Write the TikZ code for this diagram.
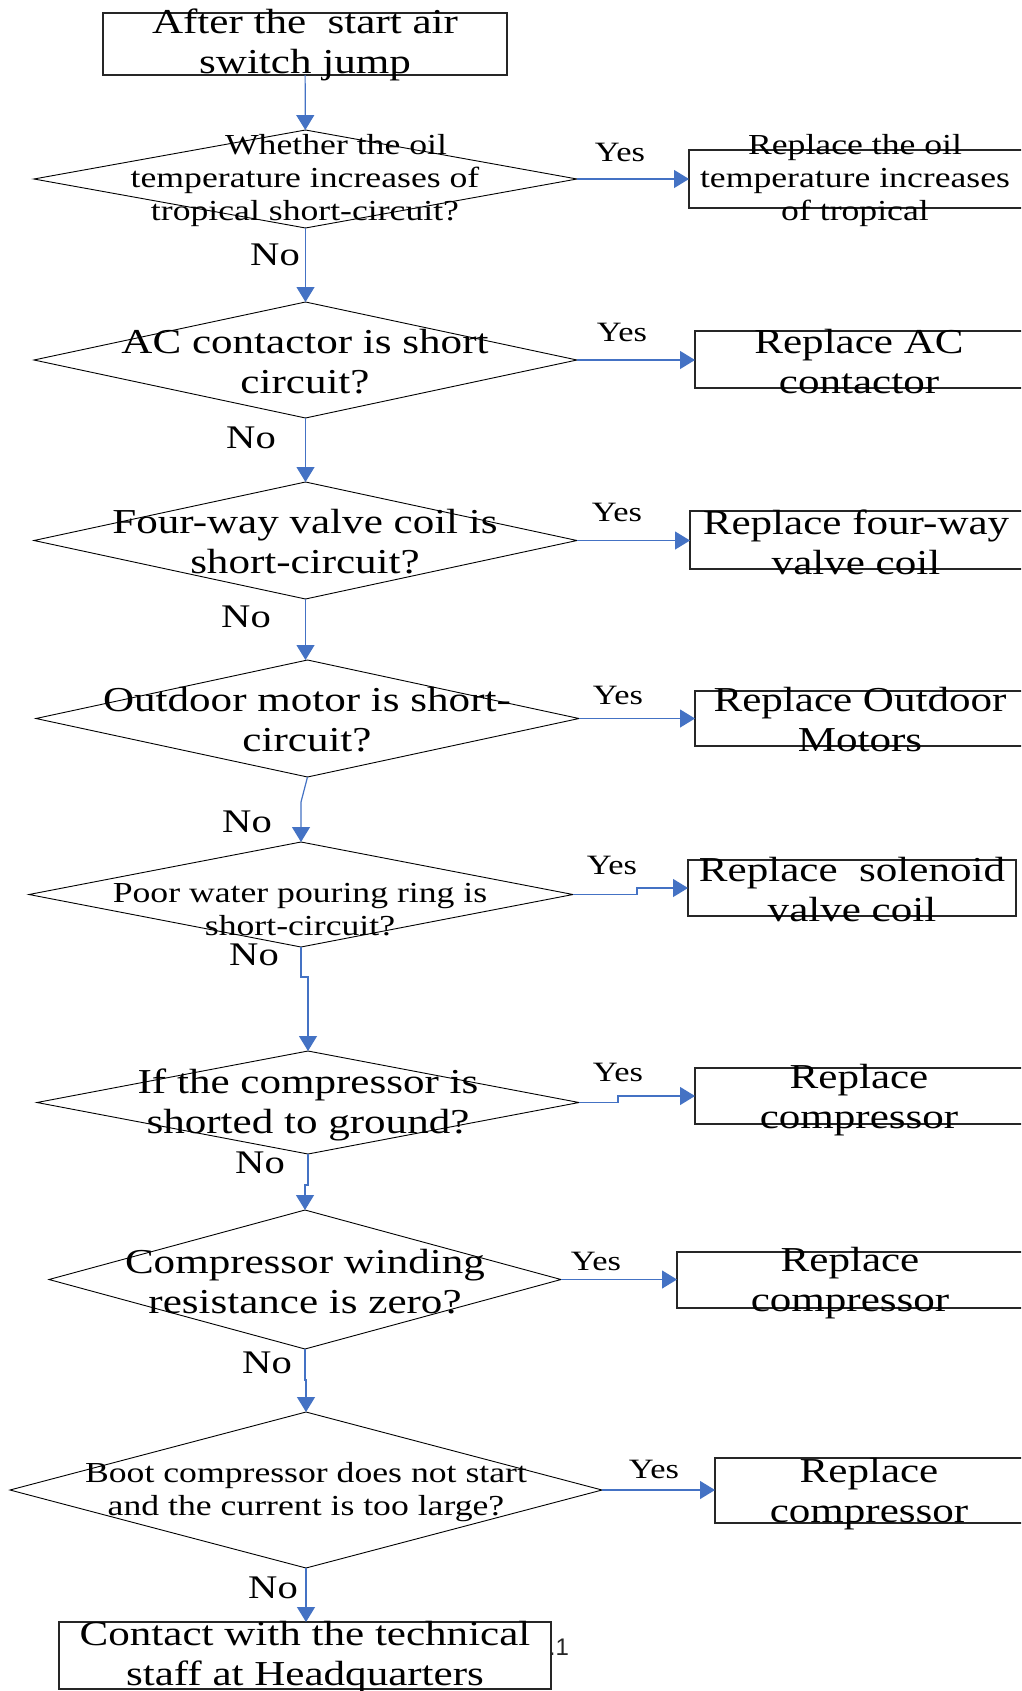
\documentclass[tikz,border=0pt]{standalone}
\usepackage{fontspec}
\setmainfont{Liberation Serif}[FakeStretch=1.23]
\newfontfamily\sansf{Liberation Sans}
\usetikzlibrary{shapes.geometric,arrows.meta,calc}
\definecolor{flowblue}{HTML}{4472C4}
\begin{document}
\begin{tikzpicture}[x=1pt,y=-1pt,
  dia/.style={draw=black, line width=0.9pt, shape=diamond, inner sep=0pt, outer sep=0pt},
  box/.style={draw=black!85, line width=1.1pt, rectangle, inner sep=0pt, outer sep=0pt},
  big/.style={font=\fontsize{35}{40}\selectfont, align=center, inner sep=0pt},
  small/.style={font=\fontsize{29}{33}\selectfont, align=center, inner sep=0pt},
  yeslbl/.style={font=\fontsize{28}{30}\selectfont, inner sep=0pt},
  nolbl/.style={font=\fontsize{33}{35}\selectfont, inner sep=0pt},
  arr/.style={draw=flowblue, line width=1.2pt, -{Triangle[length=15pt,width=18pt]}}]
\useasboundingbox (0,0) rectangle (1021,1691);
\clip (0,0) rectangle (1021,1691);
\fill[white] (0,0) rectangle (1021,1691);

% start and end boxes
\node[box, minimum width=404pt, minimum height=62pt] (start) at (305,44) {};
\node[big] (tstart) at (305,45) {After the\ \ start air\\switch jump};
\node[box, minimum width=492pt, minimum height=67pt] (end) at (305,1655.5) {};
\node[big] (tend) at (305,1657) {Contact with the technical\\staff at Headquarters};
\node[font=\sansf\fontsize{24}{26}\selectfont, inner sep=0pt, text=black!85] (stray) at (559,1647) {.1};

% decision diamonds
\node[dia, minimum width=543pt, minimum height=98pt] (d1) at (305.5,179) {};
\node[dia, minimum width=543pt, minimum height=116pt] (d2) at (305.5,360) {};
\node[dia, minimum width=543pt, minimum height=117pt] (d3) at (305.5,540.5) {};
\node[dia, minimum width=543pt, minimum height=117pt] (d4) at (307.5,718.5) {};
\node[dia, minimum width=544pt, minimum height=105pt] (d5) at (301,894.5) {};
\node[dia, minimum width=542pt, minimum height=103pt] (d6) at (308,1102.5) {};
\node[dia, minimum width=512pt, minimum height=139pt] (d7) at (305,1279.5) {};
\node[dia, minimum width=592pt, minimum height=156pt] (d8) at (306,1490) {};

\node[small] (td1) at (305,181) {\hspace*{62pt}Whether the oil\\temperature increases of\\tropical short-circuit?};
\node[big] (td2) at (305,362) {AC contactor is short\\circuit?};
\node[big] (td3) at (305,542) {Four-way valve coil is\\short-circuit?};
\node[big] (td4) at (307,720) {Outdoor motor is short-\\circuit?};
\node[small] (td5) at (300,910) {Poor water pouring ring is\\short-circuit?};
\node[big] (td6) at (308,1105) {If the compressor is\\shorted to ground?};
\node[big] (td7) at (305,1282) {Compressor winding\\resistance is zero?};
\node[small] (td8) at (306,1492) {Boot compressor does not start\\and the current is too large?};

% result boxes
\node[box, minimum width=351pt, minimum height=58pt] (b1) at (864.5,179) {};
\node[box, minimum width=345pt, minimum height=57pt] (b2) at (867.5,359.5) {};
\node[box, minimum width=350pt, minimum height=58pt] (b3) at (865,540) {};
\node[box, minimum width=345pt, minimum height=55pt] (b4) at (867.5,718.5) {};
\node[box, minimum width=328pt, minimum height=56pt] (b5) at (852,888) {};
\node[box, minimum width=345pt, minimum height=56pt] (b6) at (867.5,1096) {};
\node[box, minimum width=363pt, minimum height=56pt] (b7) at (858.5,1280) {};
\node[box, minimum width=325pt, minimum height=65pt] (b8) at (877.5,1490.5) {};

\node[small] (tb1) at (855,181) {Replace the oil\\temperature increases\\of tropical};
\node[big] (tb2) at (859,362) {Replace AC\\contactor};
\node[big] (tb3) at (856,542) {Replace four-way\\valve coil};
\node[big] (tb4) at (860,720) {Replace Outdoor\\Motors};
\node[big] (tb5) at (852,890) {Replace\ \ solenoid\\valve coil};
\node[big] (tb6) at (859,1100) {Replace\\compressor};
\node[big] (tb7) at (850,1283) {Replace\\compressor};
\node[big] (tb8) at (869,1494) {Replace\\compressor};

% Yes labels
\node[yeslbl] (y1) at (620,152) {Yes};
\node[yeslbl] (y2) at (622,332) {Yes};
\node[yeslbl] (y3) at (617,512) {Yes};
\node[yeslbl] (y4) at (618,695) {Yes};
\node[yeslbl] (y5) at (612,865) {Yes};
\node[yeslbl] (y6) at (618,1072) {Yes};
\node[yeslbl] (y7) at (596,1261) {Yes};
\node[yeslbl] (y8) at (654,1469) {Yes};

% No labels
\node[nolbl] (n1) at (275,255) {No};
\node[nolbl] (n2) at (251,438) {No};
\node[nolbl] (n3) at (246,617) {No};
\node[nolbl] (n4) at (247,822) {No};
\node[nolbl] (n5) at (254,955) {No};
\node[nolbl] (n6) at (260,1163) {No};
\node[nolbl] (n7) at (267,1363) {No};
\node[nolbl] (n8) at (273,1588) {No};

% vertical (No) connectors
\draw[arr] (start) -- (d1);
\draw[arr] (d1.south) -- (d2.north);
\draw[arr] (d2.south) -- (d3.north);
\draw[arr] (d3.south) -- (d3.south |- d4.north);
\draw[arr] (d4.south) -- ($(d5.north)+(0,-40)$) -- (d5.north);
\draw[arr] (d5.south) -- ++(0,30) -| (d6.north);
\draw[arr] (d6.south) -- ++(0,31) -| (d7.north);
\draw[arr] (d7.south) -- ++(0,31) -| (d8.north);
\draw[arr] (d8.south) -- (d8.south |- end.north);

% Yes connectors
\draw[arr] (d1.east) -- (d1.east -| b1.west);
\draw[arr] (d2.east) -- (d2.east -| b2.west);
\draw[arr] (d3.east) -- (d3.east -| b3.west);
\draw[arr] (d4.east) -- (d4.east -| b4.west);
\draw[arr] (d5.east) -- ++(64,0) |- (b5.west);
\draw[arr] (d6.east) -- ++(39,0) |- (b6.west);
\draw[arr] (d7.east) -- (d7.east -| b7.west);
\draw[arr] (d8.east) -- (d8.east -| b8.west);
\end{tikzpicture}
\end{document}
